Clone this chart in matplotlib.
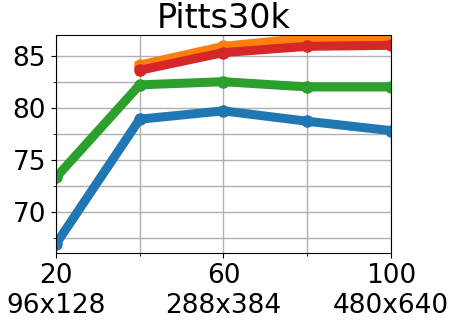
import matplotlib
matplotlib.use('Agg')
import matplotlib.pyplot as plt
from matplotlib.ticker import MultipleLocator, FixedLocator

# percentages of training data / image resolution
x_all = [20, 40, 60, 80, 100]
x_sub = [40, 60, 80, 100]
res_labels = ['20\n96x128', '60\n288x384', '100\n480x640']
major_x = [20, 60, 100]

blue = [66.9, 78.9, 79.7, 78.7, 77.8]
green = [73.3, 82.2, 82.5, 82.0, 82.0]
orange = [84.1, 85.9, 86.7, 86.6]
red = [83.6, 85.3, 85.9, 86.0]

fig = plt.figure(figsize=(4.55, 3.23), dpi=100)
ax = fig.add_axes([0.123, 0.217, 0.736, 0.675])

lw = 6.5
ax.plot(x_all, blue, '-o', color='C0', lw=lw, ms=8)
ax.plot(x_sub, orange, '-o', color='C1', lw=lw, ms=8)
ax.plot(x_all, green, '-o', color='C2', lw=lw, ms=8)
ax.plot(x_sub, red, '-o', color='C3', lw=lw, ms=8)

ax.set_xlim(20, 100)
ax.set_ylim(66.05, 87.0)
ax.set_xticks(major_x)
ax.set_xticklabels(res_labels)
ax.xaxis.set_minor_locator(FixedLocator([40, 80]))
ax.yaxis.set_major_locator(MultipleLocator(5))
ax.yaxis.set_minor_locator(MultipleLocator(2.5))
ax.grid(True, which='both', color='#b0b0b0', lw=1)
ax.set_axisbelow(True)
ax.tick_params(labelsize=19)
ax.set_title('Pitts30k', fontsize=24, pad=3)

fig.savefig('out.png', dpi=100)
